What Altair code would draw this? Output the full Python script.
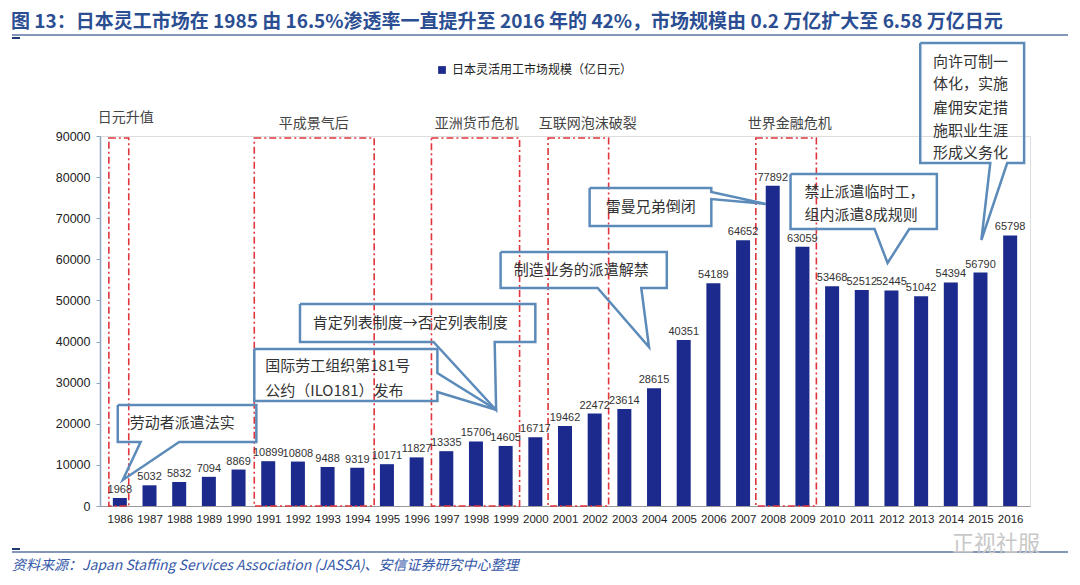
import altair as alt
import pandas as pd

# ---------------- data ----------------
years = list(range(1986, 2017))
values = [1968, 5032, 5832, 7094, 8869, 10899, 10808, 9488, 9319, 10171,
          11827, 13335, 15706, 14605, 16717, 19462, 22472, 23614, 28615, 40351,
          54189, 64652, 77892, 63059, 53468, 52512, 52445, 51042, 54394, 56790,
          65798]
series_name = "日本灵活用工市场规模（亿日元）"

# shaded periods (dash-dot boxes): start, end (in year units), label, label position
period_labels = ["日元升值", "平成景气后", "亚洲货币危机", "互联网泡沫破裂", "世界金融危机"]
period_start = [1985.63, 1990.53, 1996.5, 2000.43, 2007.43]
period_end = [1986.3, 1994.57, 1999.47, 2002.47, 2009.47]
period_label_x = [1986.2, 1992.53, 1998.03, 2001.77, 2008.57]
period_label_y = [94378, 92919, 92919, 92919, 92919]
period_top = 89500

# callout bubbles (outline polygons in year/value units)
callout_shapes = {
    1: [(1985.93, 24568), (1990.6, 24568), (1990.6, 15567), (1988.0, 15567),
        (1986.1, 6324), (1986.7, 15567), (1985.93, 15567), (1985.93, 24568)],
    2: [(1990.53, 38189), (1996.7, 38189), (1996.7, 32351), (1998.7, 23351),
        (1996.7, 27729), (1996.7, 25540), (1990.53, 25540), (1990.53, 38189)],
    3: [(1992.07, 49135), (2000.0, 49135), (2000.0, 39891), (1998.63, 39891),
        (1998.68, 23351), (1996.57, 39891), (1992.07, 39891), (1992.07, 49135)],
    4: [(1998.83, 61783), (2004.43, 61783), (2004.43, 53026), (2003.57, 53026),
        (2003.83, 38676), (2002.1, 53026), (1998.83, 53026), (1998.83, 61783)],
    5: [(2001.83, 77350), (2005.93, 77350), (2005.93, 76378), (2007.77, 73459),
        (2005.93, 74675), (2005.93, 68108), (2001.83, 68108), (2001.83, 77350)],
    6: [(2008.6, 80757), (2013.53, 80757), (2013.53, 67378), (2012.6, 67378),
        (2011.87, 59108), (2011.43, 67378), (2008.6, 67378), (2008.6, 80757)],
    7: [(2012.97, 112622), (2016.47, 112622), (2016.47, 83432), (2015.9, 83432),
        (2015.03, 64702), (2015.33, 83432), (2012.97, 83432), (2012.97, 112622)],
}

callout_texts = ["劳动者派遣法实", "国际劳工组织第181号", "公约（ILO181）发布",
                 "肯定列表制度→否定列表制度", "制造业务的派遣解禁", "雷曼兄弟倒闭",
                 "禁止派遣临时工，", "组内派遣8成规则",
                 "向许可制一", "体化，实施", "雇佣安定措", "施职业生涯", "形成义务化"]
callout_text_x = [1986.33, 1990.9, 1990.9, 1992.5, 1999.27, 2002.37,
                  2009.07, 2009.07, 2013.4, 2013.4, 2013.4, 2013.4, 2013.4]
callout_text_y = [20189, 34054, 27973, 44513, 57405, 72729,
                  76378, 70784, 107997, 102649, 96811, 91216, 85865]

title_text = ("图 13：日本灵工市场在 1985 由 16.5%渗透率一直提升至 2016 年的 42%，"
              "市场规模由 0.2 万亿扩大至 6.58 万亿日元")
source_text = "资料来源：Japan Staffing Services Association (JASSA)、安信证券研究中心整理"
watermark_text = "正视社服"

# ---------------- frames ----------------
df = pd.DataFrame({"year": years, "value": values, "series": series_name})
periods = pd.DataFrame({"x": period_start, "x2": period_end, "top": period_top,
                        "label": period_labels, "lx": period_label_x, "ly": period_label_y})
rows = []
for cid, pts in callout_shapes.items():
    for i, (x, y) in enumerate(pts):
        rows.append({"id": cid, "ord": i, "x": x, "y": y})
shapes = pd.DataFrame(rows)
ctext = pd.DataFrame({"t": callout_texts, "x": callout_text_x, "y": callout_text_y})

CJK = "Noto Sans CJK SC"
NUM = "Liberation Sans"
BAR = "#1B2A8C"
RED = "#E0353D"
BLUE_LINE = "#5C8BBA"

xscale = alt.Scale(domain=[1985.5, 2016.5], nice=False, zero=False)
yscale = alt.Scale(domain=[0, 90000], nice=False)

x_axis = alt.Axis(values=years, format="d", title=None, grid=False,
                  labelFont=NUM, labelFontSize=11.5, labelColor="#222",
                  labelOverlap=False, labelFlush=False, labelBound=False,
                  labelSeparation=0, ticks=False,
                  labelPadding=7, domainColor="#999", domainWidth=1)
y_axis = alt.Axis(values=list(range(0, 90001, 10000)), format="d", title=None,
                  grid=False, labelFont=NUM, labelFontSize=12.5,
                  labelColor="#222", tickSize=4, tickColor="#8FA5BF",
                  domainColor="#8FA5BF", domainWidth=1.5, labelPadding=6)


def X(field):
    return alt.X(field, scale=xscale, axis=x_axis, title=None)


def Y(field):
    return alt.Y(field, scale=yscale, axis=y_axis, title=None)


bars = alt.Chart(df).mark_bar(size=14).encode(
    x=X("year:Q"), y=Y("value:Q"),
    color=alt.Color("series:N", scale=alt.Scale(range=[BAR]),
                    legend=alt.Legend(title=None, orient="none", legendX=336, legendY=-72,
                                      symbolType="square", symbolSize=60, labelLimit=0,
                                      labelFont=CJK, labelFontSize=12, labelColor="#222",
                                      symbolStrokeWidth=0)),
)

labels = alt.Chart(df).mark_text(baseline="bottom", dy=-3, font=NUM, fontSize=11,
                                 color="#333").encode(
    x=X("year:Q"), y=Y("value:Q"),
    text=alt.Text("value:Q", format="d"))

boxes = alt.Chart(periods).mark_rect(filled=False, stroke=RED, strokeWidth=1.6,
                                     strokeDash=[7, 3, 2, 3]).encode(
    x=X("x:Q"), x2="x2:Q", y=Y("top:Q"), y2=alt.datum(0))

period_txt = alt.Chart(periods).mark_text(font=CJK, fontSize=14, color="#444").encode(
    x=X("lx:Q"), y=Y("ly:Q"), text="label:N")

bubbles = alt.Chart(shapes).mark_line(color=BLUE_LINE, strokeWidth=2.5,
                                      strokeJoin="miter").encode(
    x=X("x:Q"), y=Y("y:Q"), detail="id:N", order="ord:Q")

bubble_txt = alt.Chart(ctext).mark_text(font=CJK, fontSize=15, color="#333",
                                        align="left").encode(
    x=X("x:Q"), y=Y("y:Q"), text="t:N")

# page decorations (title, separators, source, watermark)
title = alt.Chart(pd.DataFrame({"t": [title_text]})).mark_text(
    font=CJK, fontSize=19, fontWeight="bold", color="#2B4E93", align="left",
    baseline="middle").encode(x=alt.value(-89), y=alt.value(-114), text="t:N")
top_line = alt.Chart(pd.DataFrame({"a": [0]})).mark_rule(color="#8497B8", strokeWidth=2).encode(
    x=alt.value(-88), x2=alt.value(968), y=alt.value(-101))
top_tick = alt.Chart(pd.DataFrame({"a": [0]})).mark_rule(color="#1F3A6E", strokeWidth=2).encode(
    x=alt.value(-88), x2=alt.value(-80), y=alt.value(-98))
bot_line = alt.Chart(pd.DataFrame({"a": [0]})).mark_rule(color="#8497B8", strokeWidth=2).encode(
    x=alt.value(-88), x2=alt.value(968), y=alt.value(416))
bot_tick = alt.Chart(pd.DataFrame({"a": [0]})).mark_rule(color="#1F3A6E", strokeWidth=2).encode(
    x=alt.value(-88), x2=alt.value(-80), y=alt.value(413))
source = alt.Chart(pd.DataFrame({"t": [source_text]})).mark_text(
    font=CJK, fontSize=14, fontStyle="italic", color="#3457A8", align="left",
    baseline="middle").encode(x=alt.value(-88), y=alt.value(430), text="t:N")
watermark = alt.Chart(pd.DataFrame({"t": [watermark_text]})).mark_text(
    font=CJK, fontSize=22, color="#C8C8C8", align="left", baseline="middle").encode(
    x=alt.value(852), y=alt.value(408), text="t:N")

chart = alt.layer(
    bars, boxes, labels, period_txt, bubbles, bubble_txt,
    title, top_line, top_tick, bot_line, bot_tick, source, watermark
).properties(
    width=930, height=370,
    autosize=alt.AutoSizeParams(type="none"),
    padding={"left": 92, "top": 128, "right": 42, "bottom": 76},
).configure_view(stroke=None).configure(background="white")

chart.save("out.html", embed_options={"renderer": "svg", "actions": False})
